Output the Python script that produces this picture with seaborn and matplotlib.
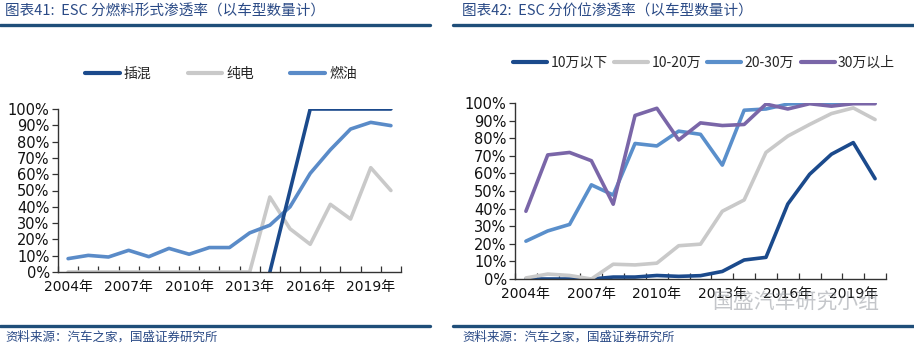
import numpy as np
import pandas as pd
import matplotlib
matplotlib.use("Agg")
import matplotlib.pyplot as plt
import seaborn as sns
from matplotlib.ticker import FixedLocator, PercentFormatter

sns.set_theme(style="white")
plt.rcParams['font.family'] = ['DejaVu Sans', 'Noto Sans CJK SC']

years = list(range(2004, 2021))
year_labels = [f"{y}年" for y in years]

# Left chart: by fuel type
fuel_names = ["插混", "纯电", "燃油"]
phev = [np.nan]*10 + [0, 50, 100, 100, 100, 100, 100]
bev = [0, 0, 0, 0, 0, 0, 0, 0, 0, 0, 46, 26.5, 17, 41.5, 32.5, 64, 50]
ice = [8.2, 10.2, 9.2, 13.3, 9.4, 14.5, 10.9, 15, 15, 24, 28.7, 40, 60.5, 75, 87.7, 91.8, 89.8]

# Right chart: by price segment
price_names = ["10万以下", "10-20万", "20-30万", "30万以上"]
p_low = [0, 0, 0, 0, 1.1, 1.1, 2, 1.5, 1.9, 4.3, 10.8, 12.3, 42.6, 59.5, 70.9, 77.5, 57]
p_mid = [0.6, 2.8, 2, 0, 8.4, 8, 9, 18.9, 19.8, 38.5, 44.9, 71.9, 81.2, 87.8, 94, 97.2, 90.6]
p_upper = [21.5, 27.3, 31, 53.5, 47.7, 77, 75.6, 84, 82.2, 64.7, 95.9, 96.6, 99.4, 100, 100, 100, 100]
p_high = [38.5, 70.5, 71.9, 67.2, 42.5, 92.9, 97, 79, 88.7, 87.2, 87.8, 99.4, 96.6, 99.6, 98.2, 99.6, 99.6]

fuel_colors = {"插混": "#1B4A8C", "纯电": "#C9C9C9", "燃油": "#5A8BC8"}
price_colors = {"10万以下": "#1B4A8C", "10-20万": "#C9C9C9", "20-30万": "#5A8FCB", "30万以上": "#7A66A8"}

def long_df(names, series):
    rows = []
    for n, s in zip(names, series):
        for i, v in enumerate(s):
            rows.append({"idx": i, "year": years[i], "series": n, "value": v / 100.0})
    return pd.DataFrame(rows)

df_left = long_df(fuel_names, [phev, bev, ice])
df_right = long_df(price_names, [p_low, p_mid, p_upper, p_high])

W, H = 914, 345
fig = plt.figure(figsize=(W/100, H/100), dpi=100)

def px_axes(x0, x1, ytop, ybot):
    return fig.add_axes([x0/W, (H-ybot)/H, (x1-x0)/W, (ybot-ytop)/H])

ax1 = px_axes(58, 401, 109, 272)
ax2 = px_axes(515, 886, 103, 279)

def style_axis(ax, df, names, colors, draw_order):
    for n in draw_order:
        sub = df[df["series"] == n]
        sns.lineplot(data=sub, x="idx", y="value", color=colors[n], lw=2.6,
                     ax=ax, legend=False, estimator=None, sort=False)
    ax.set_xlim(-0.5, len(years) - 0.5)
    ax.set_ylim(0, 1.0)
    ax.set_xlabel("")
    ax.set_ylabel("")
    ax.yaxis.set_major_locator(FixedLocator(np.arange(0, 1.01, 0.1)))
    ax.yaxis.set_major_formatter(PercentFormatter(1.0, decimals=0))
    ax.set_xticks(range(0, len(years), 3))
    ax.set_xticklabels([year_labels[i] for i in range(0, len(years), 3)])
    ax.xaxis.set_minor_locator(FixedLocator(np.arange(-0.5, len(years), 1.0)))
    ax.tick_params(axis='x', which='major', length=0, pad=6, labelsize=10, colors='#111111')
    ax.tick_params(axis='x', which='minor', direction='in', length=4, width=0.9, color='#333333', bottom=True)
    ax.tick_params(axis='y', which='major', direction='out', length=4, width=0.9, color='#333333',
                   left=True, labelsize=10.5, colors='#111111', pad=2)
    for s in ["top", "right"]:
        ax.spines[s].set_visible(False)
    for s in ["left", "bottom"]:
        ax.spines[s].set_color('#333333')
        ax.spines[s].set_linewidth(1.0)
    ax.set_facecolor('none')

style_axis(ax1, df_left, fuel_names, fuel_colors, ["纯电", "燃油", "插混"])
style_axis(ax2, df_right, price_names, price_colors, ["10万以下", "10-20万", "20-30万", "30万以上"])

from matplotlib.lines import Line2D
cjk = ['Noto Sans CJK SC', 'DejaVu Sans']
h1 = [Line2D([], [], color=fuel_colors[n], lw=3) for n in fuel_names]
leg1 = fig.legend(h1, fuel_names, loc='center', bbox_to_anchor=(221/W, (H-74)/H), ncol=3,
                  frameon=False, handlelength=2.5, handletextpad=0.3, columnspacing=2.6,
                  prop={'family': cjk, 'size': 10})
h2 = [Line2D([], [], color=price_colors[n], lw=3) for n in price_names]
leg2 = fig.legend(h2, price_names, loc='center', bbox_to_anchor=(704/W, (H-63)/H), ncol=4,
                  frameon=False, handlelength=2.45, handletextpad=0.25, columnspacing=0.45,
                  prop={'family': cjk, 'size': 10})

title_color = '#2A4A86'
fig.text(5/W, 1 - 12/H, "图表41:  ESC 分燃料形式渗透率（以车型数量计）", ha='left', va='center',
         color=title_color, fontsize=10.5, style='italic', family=cjk)
fig.text(462/W, 1 - 12/H, "图表42:  ESC 分价位渗透率（以车型数量计）", ha='left', va='center',
         color=title_color, fontsize=10.5, style='italic', family=cjk)

line_color = '#1F4E79'
for (x0, x1) in [(0, 430), (453, 914)]:
    fig.add_artist(Line2D([x0/W, x1/W], [1 - 25/H, 1 - 25/H], color=line_color, lw=2.4,
                          transform=fig.transFigure))
    fig.add_artist(Line2D([x0/W, x1/W], [1 - 326/H, 1 - 326/H], color=line_color, lw=2.4,
                          transform=fig.transFigure))

fig.text(5/W, 1 - 337/H, "资料来源：汽车之家，国盛证券研究所", ha='left', va='center',
         color=title_color, fontsize=9, style='italic', family=cjk)
fig.text(462/W, 1 - 337/H, "资料来源：汽车之家，国盛证券研究所", ha='left', va='center',
         color=title_color, fontsize=9, style='italic', family=cjk)

# watermark
fig.text(712/W, 1 - 302/H, "国盛汽车研究小组", ha='left', va='center',
         color='#8A8F96', alpha=0.5, fontsize=15, family=cjk)

fig.savefig("out.png", dpi=100, facecolor='white')
